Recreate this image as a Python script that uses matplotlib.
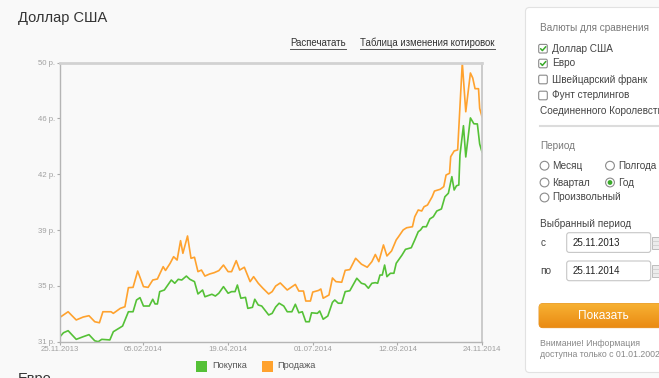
import numpy as np
import matplotlib
matplotlib.use('Agg')
import matplotlib.pyplot as plt
import matplotlib.dates as mdates
from matplotlib.patches import FancyBboxPatch, Rectangle, Circle
from matplotlib.colors import LinearSegmentedColormap

plt.rcParams['font.family'] = ['Liberation Sans', 'DejaVu Sans']

# ---------------- data ----------------
start_date = '2013-11-25'
sell_days = [0, 7, 14, 20, 25, 30, 34, 37, 44, 46, 52, 56, 59, 63, 67, 72, 76, 80, 84, 89,
             91, 95, 98, 101, 104, 106, 110, 113, 116, 119, 122, 125, 129, 133, 137, 141, 145, 148, 152, 155,
             159, 164, 167, 171, 175, 180, 183, 186, 190, 196, 203, 206, 210, 212, 216, 218, 223, 225, 227, 232,
             235, 238, 243, 246, 250, 255, 260, 265, 269, 272, 275, 279, 282, 286, 290, 292, 296, 299, 304, 306,
             309, 312, 314, 317, 321, 323, 328, 331, 333, 336, 337, 340, 343, 347, 350, 354, 356, 358, 361, 362,
             364]
sell_values = [32.66, 33.04, 32.48, 32.68, 32.77, 32.36, 32.29, 33.04, 33.04, 32.93, 33.27, 33.38, 34.68, 34.70,
               35.81, 34.75, 34.70, 35.20, 35.27, 36.11, 35.85, 36.34, 36.79, 36.56, 37.88, 37.02, 38.20, 36.68,
               36.75, 35.77, 35.88, 35.47, 35.61, 35.70, 35.84, 36.22, 35.77, 35.77, 36.52, 35.88, 36.07, 35.09,
               35.43, 34.98, 34.64, 34.25, 34.41, 34.79, 35.00, 34.52, 34.90, 34.45, 34.45, 33.77, 33.77, 34.38,
               34.49, 34.59, 33.96, 34.18, 35.34, 35.09, 35.05, 35.86, 35.91, 36.68, 36.28, 36.07, 36.45, 36.94,
               36.45, 37.59, 36.84, 37.18, 37.93, 38.15, 38.61, 38.76, 38.83, 39.51, 39.97, 39.90, 40.19, 40.31,
               40.87, 41.26, 41.38, 41.56, 42.35, 42.47, 43.60, 43.99, 44.06, 50.00, 46.66, 49.30, 48.96, 48.23,
               48.23, 46.89, 46.32]
buy_days = [0, 3, 7, 14, 20, 25, 30, 33, 36, 43, 46, 52, 54, 59, 63, 66, 69, 72, 77, 80,
            82, 84, 86, 90, 93, 96, 99, 102, 105, 109, 112, 116, 119, 123, 125, 131, 134, 137, 141, 145,
            148, 151, 153, 156, 160, 162, 166, 168, 171, 174, 180, 183, 186, 189, 193, 196, 200, 203, 206, 209,
            212, 215, 217, 222, 224, 227, 231, 235, 237, 240, 243, 246, 250, 256, 260, 263, 266, 269, 272, 274,
            276, 278, 280, 282, 285, 288, 290, 295, 298, 303, 306, 309, 311, 313, 316, 319, 322, 325, 329, 332,
            335, 338, 340, 342, 344, 345, 348, 350, 354, 357, 360, 362, 364]
buy_values = [31.34, 31.61, 31.75, 31.16, 31.34, 31.48, 31.06, 31.00, 31.16, 31.12, 31.68, 31.97, 32.07, 33.04,
              33.04, 33.84, 34.00, 33.43, 33.43, 33.89, 33.57, 33.57, 34.41, 34.52, 34.86, 35.20, 34.98, 35.25,
              35.20, 35.47, 35.25, 35.09, 34.25, 34.52, 34.06, 34.23, 34.11, 34.30, 34.75, 34.30, 34.41, 34.41,
              34.86, 33.96, 34.02, 33.27, 33.34, 33.89, 33.50, 33.43, 32.82, 32.93, 33.36, 33.62, 33.43, 33.04,
              33.04, 33.55, 32.97, 33.04, 32.36, 32.36, 32.97, 32.93, 33.09, 32.53, 32.75, 33.68, 33.84, 33.62,
              33.62, 34.41, 34.47, 35.32, 34.98, 34.91, 34.64, 34.98, 35.02, 34.98, 35.54, 35.54, 36.22, 35.43,
              35.66, 35.66, 36.34, 36.90, 37.29, 37.40, 37.93, 38.49, 38.61, 38.83, 38.83, 39.36, 39.51, 39.90,
              40.04, 40.87, 41.11, 42.24, 41.33, 41.62, 41.67, 43.72, 45.71, 43.58, 46.24, 45.84, 45.83, 44.46,
              43.92]
x_tick_labels = ['25.11.2013', '05.02.2014', '19.04.2014', '01.07.2014', '12.09.2014', '24.11.2014']
y_tick_values = [31, 34.8, 38.6, 42.4, 46.2, 50]
y_tick_labels = ['31 р.', '35 р.', '39 р.', '42 р.', '46 р.', '50 р.']
legend_labels = ['Покупка', 'Продажа']
currencies = ['Доллар США', 'Евро', 'Швейцарский франк', 'Фунт стерлингов']
currency_checked = [True, True, False, False]
periods = [['Месяц', 'Полгода'], ['Квартал', 'Год'], ['Произвольный']]
selected_period = 'Год'
date_from = '25.11.2013'
date_to = '25.11.2014'

GREEN = '#55c137'
ORANGE = '#ffa22e'
PAGE = '#f9f9f9'

def to_num(days):
    d = np.datetime64(start_date) + np.array(days).astype('timedelta64[D]')
    return mdates.date2num(d)

def parse(s):
    dd, mm, yy = s.split('.')
    return mdates.date2num(np.datetime64(f'{yy}-{mm}-{dd}'))

W, H = 659, 378
fig = plt.figure(figsize=(W / 100, H / 100), dpi=100, facecolor=PAGE)

# background overlay in pixel coords
bg = fig.add_axes([0, 0, 1, 1])
bg.set_xlim(0, W)
bg.set_ylim(H, 0)
bg.axis('off')
bg.patch.set_alpha(0)

# ---------------- chart ----------------
ax = fig.add_axes([60 / W, (H - 341.7) / H, 422 / W, 279 / H])
ax.set_facecolor(PAGE)
ax.plot(to_num(buy_days), buy_values, color=GREEN, lw=1.2, solid_joinstyle='round')
ax.plot(to_num(sell_days), sell_values, color=ORANGE, lw=1.2, solid_joinstyle='round')
ax.set_xlim(parse(x_tick_labels[0]), parse(x_tick_labels[-1]))
ax.set_ylim(y_tick_values[0], y_tick_values[-1])
ax.set_yticks(y_tick_values)
ax.set_yticklabels(y_tick_labels)
ax.set_xticks([parse(s) for s in x_tick_labels])
ax.set_xticklabels(x_tick_labels)
ax.tick_params(axis='y', length=2.5, width=0.8, color='#aaaaaa', labelsize=5.6, labelcolor='#a0a0a0', pad=1.2)
ax.tick_params(axis='x', length=2, width=0.8, color='#aaaaaa', labelsize=5.6, labelcolor='#a0a0a0', pad=1.0)
for side, c, lw in [('left', '#b5b5b5', 1.0), ('bottom', '#b5b5b5', 1.0),
                    ('right', '#c8c8c8', 1.3), ('top', '#d2d2d2', 2.0)]:
    ax.spines[side].set_color(c)
    ax.spines[side].set_linewidth(lw)

# title and links
bg.text(18, 18, 'Доллар США', fontsize=10.5, color='#333333', va='center', ha='left')
bg.text(18, 372, 'Евро', fontsize=10.5, color='#333333', va='top', ha='left')
renderer = fig.canvas.get_renderer()
inv = bg.transData.inverted()
for x0, s, fs in [(290, 'Распечатать', 7.0), (360, 'Таблица изменения котировок', 6.9)]:
    t = bg.text(x0, 43, s, fontsize=fs, color='#333333', va='center', ha='left')
    bb = t.get_window_extent(renderer=renderer)
    (xa, _), (xb, _) = inv.transform([[bb.x0, bb.y0], [bb.x1, bb.y1]])
    bg.plot([xa, xb], [49, 49], color='#555555', lw=0.7)

# legend
for (x0, lab, col) in [(196, legend_labels[0], GREEN), (261.7, legend_labels[1], ORANGE)]:
    bg.add_patch(Rectangle((x0, 360.5), 11, 11, fc=col, ec='none'))
    bg.text(x0 + 16, 366, lab, fontsize=6.6, color='#555555', va='center', ha='left')

# ---------------- right panel ----------------
bg.add_patch(FancyBboxPatch((525.5, 7.5), 160, 365, boxstyle='round,pad=0,rounding_size=4',
                            fc='white', ec='#e2e2e2', lw=0.8))
TXT = '#444444'
GREY = '#7a7a7a'
FS = 7.2
bg.text(540.5, 28, 'Валюты для сравнения', fontsize=FS, color=GREY, va='center')
for i, (name, chk) in enumerate(zip(currencies, currency_checked)):
    y = [48.7, 63.5, 79.5, 95.5][i]
    bg.add_patch(FancyBboxPatch((538.7, y - 4.3), 8.6, 8.6, boxstyle='round,pad=0,rounding_size=1.5',
                                fc='white', ec='#8a8a8a', lw=0.8))
    if chk:
        bg.plot([540.6, 542.4, 545.8], [y, y + 1.9, y - 2.0], color='#3aaa2a', lw=1.1,
                solid_capstyle='round')
    bg.text(552, y, name, fontsize=FS, color=TXT, va='center')
bg.text(540, 111, 'Соединенного Королевства', fontsize=FS, color=TXT, va='center')
bg.plot([540, 659], [126, 126], color='#dcdcdc', lw=1.5)

bg.text(540.5, 145.7, 'Период', fontsize=FS, color=GREY, va='center')
row_y = [165.7, 182.5, 197.5]
col_x = [544.5, 610]
for r, row in enumerate(periods):
    for c, name in enumerate(row):
        cx, cy = col_x[c], row_y[r]
        bg.add_patch(Circle((cx, cy), 4.4, fc='white', ec='#8a8a8a', lw=0.8))
        if name == selected_period:
            bg.add_patch(Circle((cx, cy), 2.4, fc='#3aaa2a', ec='none'))
        bg.text(cx + 8, cy, name, fontsize=FS, color=TXT, va='center')

bg.text(540.5, 223.3, 'Выбранный период', fontsize=FS, color=TXT, va='center')
for lab, val, y0 in [('с', date_from, 232.7), ('по', date_to, 261)]:
    bg.text(540.5, y0 + 9.8, lab, fontsize=FS, color=TXT, va='center')
    bg.add_patch(FancyBboxPatch((566.7, y0), 84, 19.7, boxstyle='round,pad=0,rounding_size=2.5',
                                fc='white', ec='#c6c6c6', lw=0.8))
    bg.text(572.3, y0 + 9.8, val, fontsize=7.0, color='#222222', va='center')
    bg.add_patch(Rectangle((652, y0 + 4), 9, 12, fc='#ececec', ec='#bdbdbd', lw=0.7))
    for k in range(1, 3):
        bg.plot([652, 661], [y0 + 4 + 4 * k, y0 + 4 + 4 * k], color='#c9c9c9', lw=0.5)

# button with gradient
btn = FancyBboxPatch((539, 303.5), 140, 24.2, boxstyle='round,pad=0,rounding_size=4',
                     fc='none', ec='#e0860f', lw=0.6)
bg.add_patch(btn)
grad = np.linspace(0, 1, 64)[:, None]
cm = LinearSegmentedColormap.from_list('btn', ['#f7b234', '#ea8a12'])
im = bg.imshow(grad, cmap=cm, extent=[539, 679, 327.7, 303.5], aspect='auto', zorder=1)
im.set_clip_path(btn)
bg.set_xlim(0, W)
bg.set_ylim(H, 0)
bg.text(603.5, 315.8, 'Показать', fontsize=8.6, color='white', va='center', ha='center', zorder=3)

bg.text(540, 344, 'Внимание! Информация', fontsize=6.3, color='#888888', va='center')
bg.text(540, 354.6, 'доступна только с 01.01.2002', fontsize=6.3, color='#888888', va='center')

fig.savefig('out.png', dpi=100, facecolor=PAGE)
